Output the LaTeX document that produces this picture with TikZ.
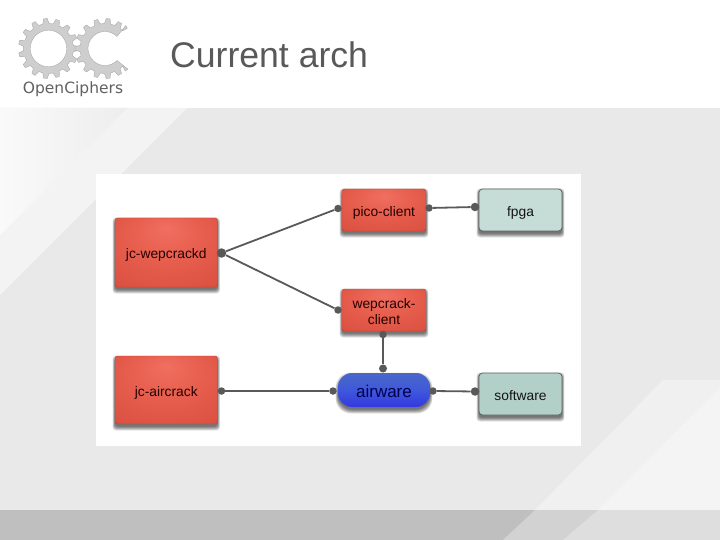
\documentclass[tikz,border=0pt]{standalone}
\usepackage{fontspec}
\setmainfont{Liberation Sans}
\newfontfamily\logofont{DejaVu Sans}
\definecolor{glowin}{HTML}{F06F61}
\definecolor{glowmid}{HTML}{E8604F}
\definecolor{glowout}{HTML}{D64A3C}
\definecolor{bgmain}{HTML}{E9E9E9}
\definecolor{wire}{HTML}{595959}
\definecolor{edgegray}{HTML}{5F5F5F}
\definecolor{logogray}{HTML}{CECECE}
\definecolor{bluetop}{HTML}{4A68C8}
\definecolor{bluemid}{HTML}{3F58DC}
\definecolor{bluebot}{HTML}{3238E0}
\definecolor{tealA}{HTML}{C6DDD7}
\definecolor{tealB}{HTML}{B2CFC8}
\pgfdeclareradialshading{redglow}{\pgfpoint{0bp}{18bp}}{%
  color(0bp)=(glowin); color(16bp)=(glowmid); color(48bp)=(glowout); color(60bp)=(glowout)}
\tikzset{
  x=1pt,y=-1pt,
  lab/.style={font=\fontsize{13.8}{16.5}\selectfont,align=center,inner sep=0pt,text=black!92},
  redbox/.style={lab,shading=redglow,draw=glowout!85!black,line width=.4pt,rounded corners=2.5pt,text=black!85!red},
  tealbox/.style={lab,draw=edgegray,line width=.8pt,rounded corners=3.5pt},
  bluebox/.style={lab,rounded corners=14pt,top color=bluetop,bottom color=bluebot,middle color=bluemid,
    font=\fontsize{17}{18}\selectfont,text=blue!30!black,draw=none},
  dot/.style={circle,fill=wire,inner sep=0pt,minimum size=#1},
  wireline/.style={draw=wire,line width=1.8pt},
  logopart/.style={fill=logogray,draw=black!35,line width=.35pt,line join=round,even odd rule},
}
\newcommand{\softshade}[5][3pt]{%
  \foreach \e in {0,.5,...,4}{
    \fill[black,opacity=.08,rounded corners=#1]
      ({#2-.6*\e},{#3+3.5-\e}) rectangle ({#4+.6*\e},{#5+2.5+\e});
  }}
\newcommand{\dn}[2]{\raisebox{-#1}[0pt][0pt]{#2}}
\begin{document}
\begin{tikzpicture}
\useasboundingbox (0,0) rectangle (720,540);
% background
\fill[white] (0,0) rectangle (720,108);
\fill[bgmain] (0,108) rectangle (720,510);
\fill[bgmain!55!white] (187,108) -- (0,295) -- (0,108) -- cycle;
\shade[left color=white!98!black,right color=white!93!black] (127,108) -- (0,235) -- (0,108) -- cycle;
\fill[white!94!black] (663,380) -- (535,510) -- (720,510) -- (720,380) -- cycle;
\fill[white!95.5!black] (720,387) -- (598,510) -- (720,510) -- cycle;
\fill[white!75!black] (0,510) rectangle (720,540);
\fill[white!82.5!black] (535,510) -- (503,540) -- (720,540) -- (720,510) -- cycle;
\fill[white!87!black] (598,510) -- (563,540) -- (720,540) -- (720,510) -- cycle;
% logo
\begin{scope}[shift={(48.5,48.5)}]
  \path[logopart] ({-.3*360/15}:25)
    \foreach \i in {0,...,14}{
      -- ({(\i-.3)*360/15}:25) -- ({(\i-.15)*360/15}:30) -- ({(\i+.15)*360/15}:30) -- ({(\i+.3)*360/15}:25)
    } -- cycle (0,0) circle[radius=18.3];
\end{scope}
\begin{scope}[shift={(105,48.5)}]
  \path[logopart] (45:25)
    \foreach \i in {0,...,10}{
      -- ({60+\i*24-.3*24}:25) -- ({60+\i*24-.15*24}:30) -- ({60+\i*24+.15*24}:30) -- ({60+\i*24+.3*24}:25)
    } -- (315:25) -- (318:30) -- (312:31)
    \foreach \a in {315,305,...,45}{ -- (\a:17) } -- (42:31) -- (48:30) -- cycle;
\end{scope}
\node[inner sep=0pt,text=black!62] (logotext) at (73,89) {\logofont\fontsize{15.5}{17}\selectfont OpenCiphers};
\node[anchor=west,inner sep=0pt,text=black!65] (title) at (170,55) {\fontsize{35.6}{40}\selectfont Current arch};
% panel
\fill[white] (96,174) rectangle (581,446);
% shadows
\softshade{115}{218}{217.5}{287}
\softshade{115}{356}{217.5}{424}
\softshade{342}{189}{426}{231}
\softshade{342}{289}{426}{331}
\softshade[15pt]{338}{373}{430}{407}
\softshade{479}{189}{562}{231}
\softshade{479}{373}{562}{415}
% boxes
\node[redbox,minimum width=102.5pt,minimum height=69pt] (wepd) at (166.25,252.5) {\dn{5.8pt}{jc-wepcrackd}};
\node[redbox,minimum width=102.5pt,minimum height=68pt] (airc) at (166.25,390) {\dn{6.7pt}{jc-aircrack}};
\node[redbox,minimum width=84pt,minimum height=42pt] (pico) at (384,210) {\dn{6.7pt}{pico-client}};
\node[redbox,minimum width=84pt,minimum height=42pt] (wepc) at (384,310) {\rule{0pt}{13pt}wepcrack-\\client};
\node[bluebox,minimum width=92pt,minimum height=34pt] (airw) at (384,390) {\dn{7.3pt}{airware}};
\node[tealbox,fill=tealA,minimum width=83pt,minimum height=42pt] (fpga) at (520.5,210) {\dn{6.5pt}{fpga}};
\node[tealbox,fill=tealB,minimum width=83pt,minimum height=42pt] (soft) at (520.5,394) {\dn{6.7pt}{software}};
% ports
\node[dot=9.5pt] (p1) at (221.5,253) {};
\node[dot=7.5pt] (p2) at (338,208.5) {};
\node[dot=7.5pt] (p3) at (338,310) {};
\node[dot=7.5pt] (p4) at (429,208) {};
\node[dot=8.5pt] (p5) at (475,207) {};
\node[dot=7.5pt] (p6) at (383,334.5) {};
\node[dot=8pt] (p7) at (383,368.5) {};
\node[dot=7.5pt] (p8) at (221.5,391) {};
\node[dot=7.5pt] (p9) at (333,391) {};
\node[dot=7.5pt] (p10) at (433,391) {};
\node[dot=8.5pt] (p11) at (475,391.5) {};
% connectors
\draw[wireline] (p1) -- (p2);
\draw[wireline] (p1) -- (p3);
\draw[wireline] (p4) -- (p5);
\draw[wireline] (p6) -- (p7);
\draw[wireline] (p8) -- (p9);
\draw[wireline] (p10) -- (p11);
\end{tikzpicture}
\end{document}
